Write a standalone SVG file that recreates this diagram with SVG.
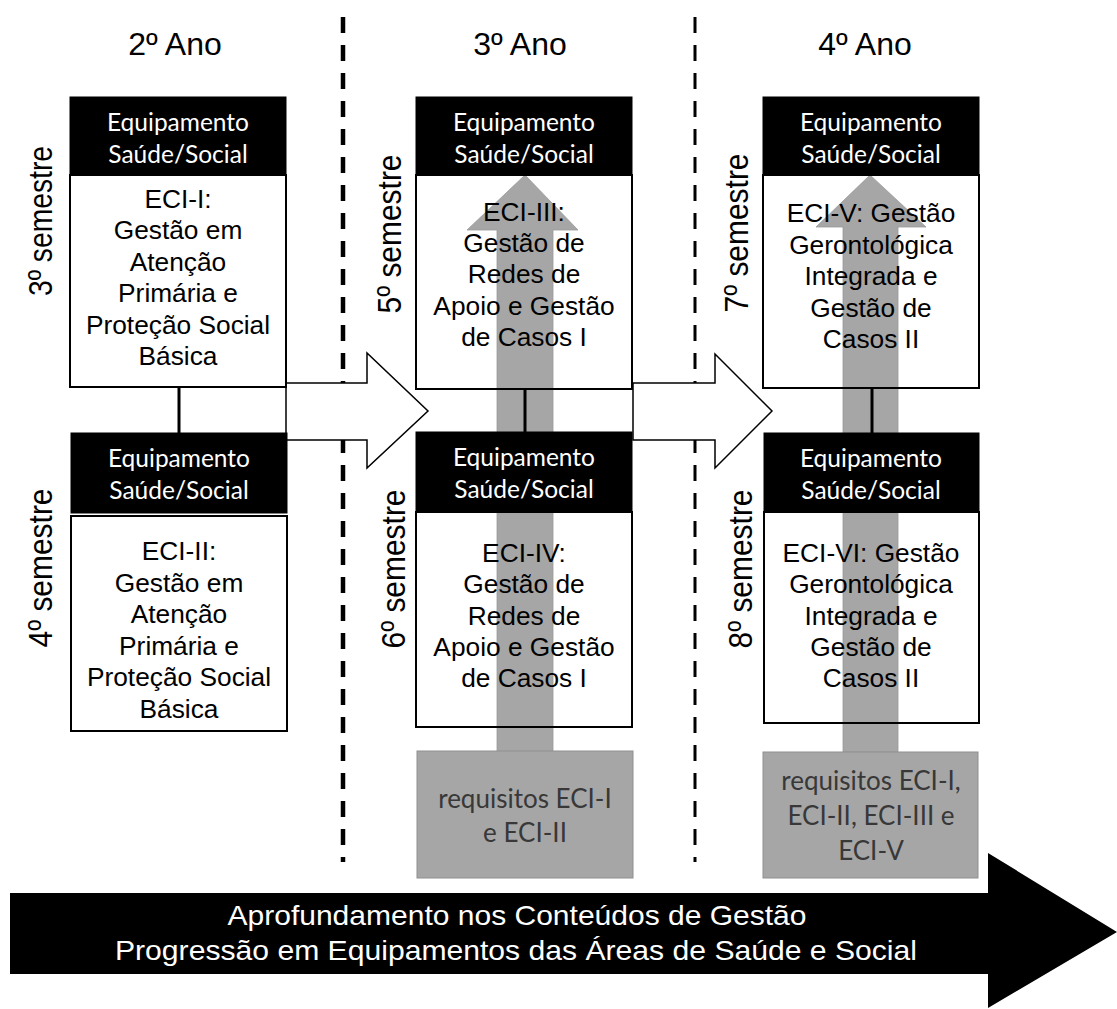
<svg xmlns="http://www.w3.org/2000/svg" width="1117" height="1009" viewBox="0 0 1117 1009">
<style>
.title{font-family:"Liberation Sans",Arial,sans-serif;font-size:32px;fill:#000;text-anchor:middle}
.sem{font-family:"Liberation Sans",Arial,sans-serif;font-size:33px;fill:#000;text-anchor:middle}
.hdr{fill:#000;stroke:#000;stroke-width:1}
.hdrt{font-family:Lato,"Liberation Sans",sans-serif;font-size:24.5px;fill:#fff;text-anchor:middle}
.body{fill:none;stroke:#000;stroke-width:2}
.bt{font-family:"Liberation Sans",Arial,sans-serif;font-size:26.3px;fill:#000;text-anchor:middle}
.req{fill:#a6a6a6;stroke:#8f8f8f;stroke-width:1}
.reqt{font-family:Lato,"Liberation Sans",sans-serif;font-size:26px;fill:#383838;text-anchor:middle}
.garrow{fill:#a6a6a6;stroke:#9a9a9a;stroke-width:0.8}
.warrow{fill:#fff;stroke:#000;stroke-width:1.5}
.link{stroke:#000;stroke-width:3}
.dash{stroke:#000;stroke-dasharray:16 12;fill:none}
.bigt{font-family:"Liberation Sans",Arial,sans-serif;font-size:28px;fill:#fff;text-anchor:middle}
</style>
<rect width="1117" height="1009" fill="#fff"/>
<g id="dividers">
<line class="dash" x1="343" y1="17" x2="343" y2="862" stroke-width="4.5"/>
<line class="dash" x1="695" y1="17" x2="695" y2="862" stroke-width="3"/>
</g>
<g id="titles">
<text class="title" x="175" y="55">2º Ano</text>
<text class="title" x="520" y="55">3º Ano</text>
<text class="title" x="865" y="55">4º Ano</text>
</g>
<g id="semesters">
<text class="sem" transform="translate(52,221) rotate(-90)" textLength="150" lengthAdjust="spacingAndGlyphs">3º semestre</text>
<text class="sem" transform="translate(52,568) rotate(-90)" textLength="159" lengthAdjust="spacingAndGlyphs">4º semestre</text>
<text class="sem" transform="translate(401,234) rotate(-90)" textLength="159" lengthAdjust="spacingAndGlyphs">5º semestre</text>
<text class="sem" transform="translate(405,569) rotate(-90)" textLength="159" lengthAdjust="spacingAndGlyphs">6º semestre</text>
<text class="sem" transform="translate(748,233) rotate(-90)" textLength="159" lengthAdjust="spacingAndGlyphs">7º semestre</text>
<text class="sem" transform="translate(752,569) rotate(-90)" textLength="159" lengthAdjust="spacingAndGlyphs">8º semestre</text>
</g>
<g id="connectors">
<polygon class="warrow" points="286,383 367,383 367,353 428,411 367,468 367,440 286,440"/>
<polygon class="warrow" points="633,383 715,383 715,354 772,411 715,468 715,440 633,440"/>
<polygon class="garrow" points="525,175 578,230 553,230 553,752 497,752 497,230 467,230"/>
<polygon class="garrow" points="870,175 926,227 898,227 898,752 843,752 843,227 816,227"/>
<line class="link" x1="179" y1="387" x2="179" y2="433"/>
<line class="link" x1="525" y1="389" x2="525" y2="432"/>
<line class="link" x1="872" y1="388" x2="872" y2="433"/>
</g>
<g id="eci1">
<rect class="hdr" x="70" y="97" width="216" height="78"/>
<text class="hdrt" x="178" y="131">Equipamento</text>
<text class="hdrt" x="178" y="163">Saúde/Social</text>
<rect class="body" x="70" y="175" width="216" height="212"/>
<text class="bt" x="178" y="208">ECI-I:</text>
<text class="bt" x="178" y="239.4">Gestão em</text>
<text class="bt" x="178" y="270.8">Atenção</text>
<text class="bt" x="178" y="302.2">Primária e</text>
<text class="bt" x="178" y="333.6">Proteção Social</text>
<text class="bt" x="178" y="365">Básica</text>
</g>
<g id="eci2">
<rect class="hdr" x="71" y="433" width="216" height="80"/>
<text class="hdrt" x="179" y="467">Equipamento</text>
<text class="hdrt" x="179" y="499">Saúde/Social</text>
<rect class="body" x="71" y="516" width="216" height="215"/>
<text class="bt" x="179" y="560">ECI-II:</text>
<text class="bt" x="179" y="591.5">Gestão em</text>
<text class="bt" x="179" y="623">Atenção</text>
<text class="bt" x="179" y="654.5">Primária e</text>
<text class="bt" x="179" y="686">Proteção Social</text>
<text class="bt" x="179" y="717.5">Básica</text>
</g>
<g id="eci3">
<rect class="hdr" x="416" y="97" width="216" height="78"/>
<text class="hdrt" x="524" y="131">Equipamento</text>
<text class="hdrt" x="524" y="163">Saúde/Social</text>
<rect class="body" x="416" y="175" width="216" height="214"/>
<text class="bt" x="524" y="221">ECI-III:</text>
<text class="bt" x="524" y="252.2">Gestão de</text>
<text class="bt" x="524" y="283.4">Redes de</text>
<text class="bt" x="524" y="314.6">Apoio e Gestão</text>
<text class="bt" x="524" y="345.8">de Casos I</text>
</g>
<g id="eci4">
<rect class="hdr" x="416" y="432" width="216" height="79"/>
<text class="hdrt" x="524" y="466">Equipamento</text>
<text class="hdrt" x="524" y="498">Saúde/Social</text>
<rect class="body" x="416" y="512" width="216" height="215"/>
<text class="bt" x="524" y="562">ECI-IV:</text>
<text class="bt" x="524" y="593.3">Gestão de</text>
<text class="bt" x="524" y="624.6">Redes de</text>
<text class="bt" x="524" y="655.9">Apoio e Gestão</text>
<text class="bt" x="524" y="687.2">de Casos I</text>
</g>
<g id="eci5">
<rect class="hdr" x="763" y="97" width="216" height="78"/>
<text class="hdrt" x="871" y="131">Equipamento</text>
<text class="hdrt" x="871" y="163">Saúde/Social</text>
<rect class="body" x="763" y="175" width="216" height="213"/>
<text class="bt" x="871" y="222">ECI-V: Gestão</text>
<text class="bt" x="871" y="253.5">Gerontológica</text>
<text class="bt" x="871" y="285">Integrada e</text>
<text class="bt" x="871" y="316.5">Gestão de</text>
<text class="bt" x="871" y="348">Casos II</text>
</g>
<g id="eci6">
<rect class="hdr" x="764" y="433" width="215" height="78"/>
<text class="hdrt" x="871" y="467">Equipamento</text>
<text class="hdrt" x="871" y="499">Saúde/Social</text>
<rect class="body" x="764" y="512" width="215" height="211"/>
<text class="bt" x="871" y="562">ECI-VI: Gestão</text>
<text class="bt" x="871" y="593.3">Gerontológica</text>
<text class="bt" x="871" y="624.6">Integrada e</text>
<text class="bt" x="871" y="655.9">Gestão de</text>
<text class="bt" x="871" y="687.2">Casos II</text>
</g>
<g id="req1">
<rect class="req" x="417" y="751" width="216" height="127"/>
<text class="reqt" x="525" y="808">requisitos ECI-I</text>
<text class="reqt" x="525" y="842">e ECI-II</text>
</g>
<g id="req2">
<rect class="req" x="763" y="752" width="215" height="126"/>
<text class="reqt" x="871" y="790">requisitos ECI-I,</text>
<text class="reqt" x="871" y="825">ECI-II, ECI-III e</text>
<text class="reqt" x="871" y="860">ECI-V</text>
</g>
<g id="progress">
<polygon fill="#000" points="10,893 988,893 988,853 1117,932 988,1008 988,974 10,974"/>
<text class="bigt" x="517" y="925" textLength="579" lengthAdjust="spacingAndGlyphs">Aprofundamento nos Conteúdos de Gestão</text>
<text class="bigt" x="516" y="960" textLength="802" lengthAdjust="spacingAndGlyphs">Progressão em Equipamentos das Áreas de Saúde e Social</text>
</g>
</svg>
